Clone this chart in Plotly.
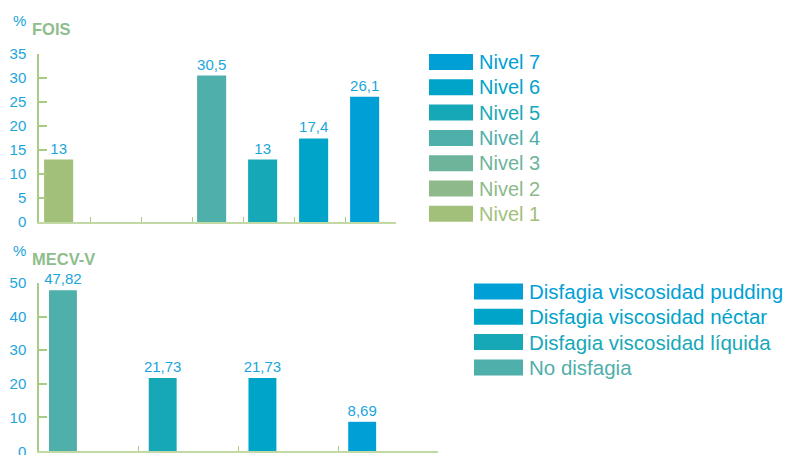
import plotly.graph_objects as go

# ---- data ----
fois_levels = ["Nivel 1", "Nivel 2", "Nivel 3", "Nivel 4", "Nivel 5", "Nivel 6", "Nivel 7"]
fois_values = [13, 0, 0, 30.5, 13, 17.4, 26.1]
fois_colors = ["#a3c07b", "#8db98b", "#6db49b", "#4fafab", "#17a8b8", "#00a4c8", "#009fd6"]

mecv_groups = ["No disfagia", "Disfagia viscosidad líquida",
               "Disfagia viscosidad néctar", "Disfagia viscosidad pudding"]
mecv_values = [47.82, 21.73, 21.73, 8.69]
mecv_colors = ["#4fafab", "#17a8b8", "#00a4c8", "#009fd6"]

# ---- style ----
W, H = 788, 455
FONT = "Liberation Sans, Arial, sans-serif"
BLUE = "#1ba5dc"
AXIS_Y = "#a9cc85"
AXIS_X = "#c2d9a6"
TITLE_GREEN = "#8fbd8c"


def label(v):
    if v == 0:
        return ""
    return f"{v:g}".replace(".", ",")


def px_x(p):
    return p / W


def px_y(p):
    return 1 - p / H


fig = go.Figure()

fig.add_trace(go.Bar(
    x=list(range(len(fois_values))), y=fois_values,
    marker=dict(color=fois_colors, line=dict(width=0)),
    offset=0.1, width=0.57,
    text=[label(v) for v in fois_values], textposition="outside",
    textfont=dict(color=BLUE, size=15, family=FONT),
    cliponaxis=False, constraintext="none",
    xaxis="x", yaxis="y", showlegend=False, hoverinfo="skip",
))

fig.add_trace(go.Bar(
    x=list(range(len(mecv_values))), y=mecv_values,
    marker=dict(color=mecv_colors, line=dict(width=0)),
    offset=0.1, width=0.28,
    text=[label(v) for v in mecv_values], textposition="outside",
    textfont=dict(color=BLUE, size=15, family=FONT),
    cliponaxis=False, constraintext="none",
    xaxis="x2", yaxis="y2", showlegend=False, hoverinfo="skip",
))

xcommon = dict(showgrid=False, zeroline=False, showticklabels=False,
               showline=True, linecolor=AXIS_X, linewidth=2,
               ticks="inside", ticklen=5, tickcolor=AXIS_Y, tickwidth=1,
               automargin=False)
ycommon = dict(showgrid=False, zeroline=False, showline=True,
               linecolor=AXIS_Y, linewidth=1.5,
               ticks="inside", ticklen=8, tickcolor=AXIS_Y, tickwidth=1.5,
               tickfont=dict(color=BLUE, size=15, family=FONT),
               ticklabelstandoff=8, automargin=False)

fig.update_layout(
    width=W, height=H,
    margin=dict(l=0, r=0, t=0, b=0, autoexpand=False),
    paper_bgcolor="white", plot_bgcolor="white",
    font=dict(family=FONT),
    showlegend=False,
    xaxis=dict(domain=[px_x(39), px_x(396)], range=[0, len(fois_values)],
               tickvals=list(range(len(fois_values) + 1)), anchor="y", **xcommon),
    yaxis=dict(domain=[px_y(222), px_y(54)], range=[0, 35], dtick=5,
               anchor="x", **ycommon),
    xaxis2=dict(domain=[px_x(39), px_x(438)], range=[0, len(mecv_values)],
                tickvals=list(range(len(mecv_values) + 1)), anchor="y2", **xcommon),
    yaxis2=dict(domain=[px_y(451), px_y(283)], range=[0, 50], dtick=10,
                anchor="x2", **ycommon),
)

annotations = []
shapes = []

# titles
for ytop, title in [(10, "FOIS"), (240, "MECV-V")]:
    annotations.append(dict(x=px_x(11), y=px_y(ytop), xref="paper", yref="paper",
                            xanchor="left", yanchor="top", showarrow=False,
                            text="%", font=dict(color=BLUE, size=15, family=FONT)))
    annotations.append(dict(x=px_x(30), y=px_y(ytop + 8), xref="paper", yref="paper",
                            xanchor="left", yanchor="top", showarrow=False,
                            text=f"<b>{title}</b>",
                            font=dict(color=TITLE_GREEN, size=16.5, family=FONT)))

# bottom-axis "0" tick label (partly cut by the page edge, as in the original)
annotations.append(dict(x=0, y=0, xref="x2 domain", yref="y2", xanchor="right",
                        yanchor="middle", xshift=-11, showarrow=False, text="0",
                        font=dict(color=BLUE, size=15, family=FONT)))

# legends
def legend(names, colors, x0, sw, ytop_center, step, fsize):
    for k, (n, c) in enumerate(zip(reversed(names), reversed(colors))):
        yc = ytop_center + k * step
        shapes.append(dict(type="rect", xref="paper", yref="paper",
                           x0=px_x(x0), x1=px_x(x0 + sw),
                           y0=px_y(yc + 8), y1=px_y(yc - 8),
                           fillcolor=c, line=dict(width=0)))
        annotations.append(dict(x=px_x(x0 + sw + 4), y=px_y(yc), xref="paper", yref="paper",
                                xanchor="left", yanchor="middle", showarrow=False,
                                text=n, font=dict(color=c, size=fsize, family=FONT)))

legend(fois_levels, fois_colors, 429, 44, 62, 25.3, 20)
legend(mecv_groups, mecv_colors, 474, 49, 291.5, 25.3, 20.5)

fig.update_layout(annotations=annotations, shapes=shapes)

fig.write_html(
    "out.html",
    config={"displayModeBar": False},
    post_script="document.body.style.margin='0';document.body.style.padding='0';"
                "document.body.style.overflow='hidden';",
)
